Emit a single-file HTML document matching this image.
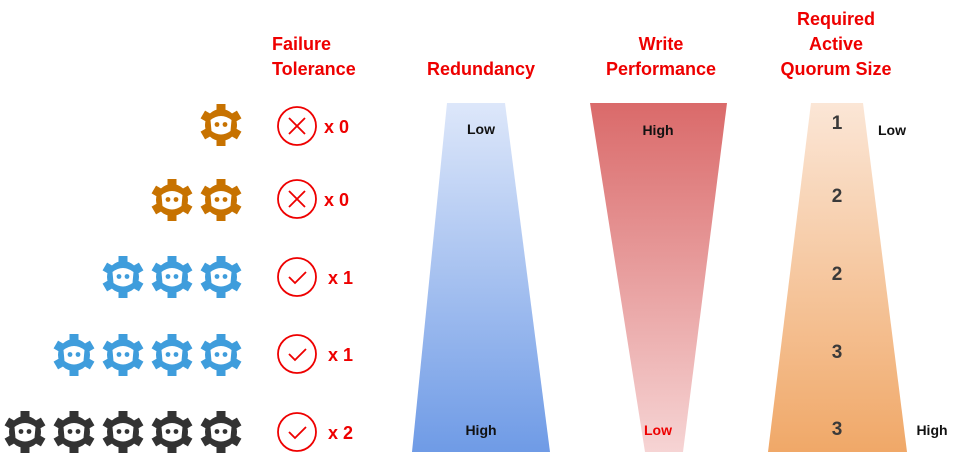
<!DOCTYPE html>
<html><head><meta charset="utf-8"><style>
html,body{margin:0;padding:0;background:#fff;}
body{width:960px;height:463px;overflow:hidden;}
svg text{font-family:"Liberation Sans",sans-serif;font-weight:bold;}
</style></head><body>
<svg width="960" height="463" viewBox="0 0 960 463" xmlns="http://www.w3.org/2000/svg">
<defs>
<symbol id="gear" viewBox="-21 -21 42 42" overflow="visible">
  <g fill="currentColor">
    <circle r="16"/>
    <rect x="-4.5" y="-21" width="9" height="8" transform="rotate(0)"/>
    <rect x="-4.5" y="-21" width="9" height="8" transform="rotate(60)"/>
    <rect x="-4.5" y="-21" width="9" height="8" transform="rotate(120)"/>
    <rect x="-4.5" y="-21" width="9" height="8" transform="rotate(180)"/>
    <rect x="-4.5" y="-21" width="9" height="8" transform="rotate(240)"/>
    <rect x="-4.5" y="-21" width="9" height="8" transform="rotate(300)"/>
  </g>
  <path d="M-10.5,-5 Q0,-13 10.5,-5 L9.5,6 Q0,13 -9.5,6 Z" fill="#fff"/>
  <circle cx="-4" cy="-0.5" r="2.4" fill="currentColor"/>
  <circle cx="4" cy="-0.5" r="2.4" fill="currentColor"/>
</symbol>
<linearGradient id="gb" x1="0" y1="0" x2="0" y2="1"><stop offset="0" stop-color="#dde7fa"/><stop offset="1" stop-color="#6f9be6"/></linearGradient>
<linearGradient id="gr" x1="0" y1="0" x2="0" y2="1"><stop offset="0" stop-color="#da6a6a"/><stop offset="1" stop-color="#f6d4d4"/></linearGradient>
<linearGradient id="go" x1="0" y1="0" x2="0" y2="1"><stop offset="0" stop-color="#fbe6d6"/><stop offset="1" stop-color="#f0a868"/></linearGradient>
</defs>

<g font-size="18" fill="#ee0000">
<text x="272" y="50">Failure</text><text x="272" y="75">Tolerance</text>
</g>
<g font-size="18" fill="#ee0000" text-anchor="middle">
<text x="481" y="75">Redundancy</text>
<text x="661" y="50">Write</text><text x="661" y="75">Performance</text>
<text x="836" y="25">Required</text><text x="836" y="50">Active</text><text x="836" y="75">Quorum Size</text>
</g>

<g color="#c77200">
<use href="#gear" x="200" y="104" width="42" height="42"/>
<use href="#gear" x="151" y="179" width="42" height="42"/>
<use href="#gear" x="200" y="179" width="42" height="42"/>
</g>
<g color="#3f9ddc">
<use href="#gear" x="102" y="256" width="42" height="42"/>
<use href="#gear" x="151" y="256" width="42" height="42"/>
<use href="#gear" x="200" y="256" width="42" height="42"/>
<use href="#gear" x="53" y="334" width="42" height="42"/>
<use href="#gear" x="102" y="334" width="42" height="42"/>
<use href="#gear" x="151" y="334" width="42" height="42"/>
<use href="#gear" x="200" y="334" width="42" height="42"/>
</g>
<g color="#333">
<use href="#gear" x="4" y="411" width="42" height="42"/>
<use href="#gear" x="53" y="411" width="42" height="42"/>
<use href="#gear" x="102" y="411" width="42" height="42"/>
<use href="#gear" x="151" y="411" width="42" height="42"/>
<use href="#gear" x="200" y="411" width="42" height="42"/>
</g>

<g stroke="#ee0000" stroke-width="1.8" fill="none">
<circle cx="297" cy="126" r="19"/><path d="M289,118 L305,134 M305,118 L289,134"/>
<circle cx="297" cy="199" r="19"/><path d="M289,191 L305,207 M305,191 L289,207"/>
<circle cx="297" cy="277" r="19"/><path d="M289,277 L295,283 L306,272"/>
<circle cx="297" cy="354" r="19"/><path d="M289,354 L295,360 L306,349"/>
<circle cx="297" cy="432" r="19"/><path d="M289,432 L295,438 L306,427"/>
</g>
<g font-size="18" fill="#ee0000">
<text x="324" y="133">x 0</text>
<text x="324" y="206">x 0</text>
<text x="328" y="284">x 1</text>
<text x="328" y="361">x 1</text>
<text x="328" y="439">x 2</text>
</g>

<polygon points="447,103 505,103 550,452 412,452" fill="url(#gb)"/>
<polygon points="590,103 727,103 683,452 645,452" fill="url(#gr)"/>
<polygon points="811,103 863,103 907,452 768,452" fill="url(#go)"/>

<g font-size="14" text-anchor="middle">
<text x="481" y="134" fill="#111">Low</text>
<text x="481" y="435" fill="#111">High</text>
<text x="658" y="135" fill="#111">High</text>
<text x="658" y="435" fill="#ee0000">Low</text>
<text x="892" y="135" fill="#111">Low</text>
<text x="932" y="435" fill="#111">High</text>
</g>
<g font-size="19" fill="#3a3a3a" text-anchor="middle">
<text x="837" y="129">1</text>
<text x="837" y="202">2</text>
<text x="837" y="280">2</text>
<text x="837" y="358">3</text>
<text x="837" y="435">3</text>
</g>
</svg>
</body></html>
